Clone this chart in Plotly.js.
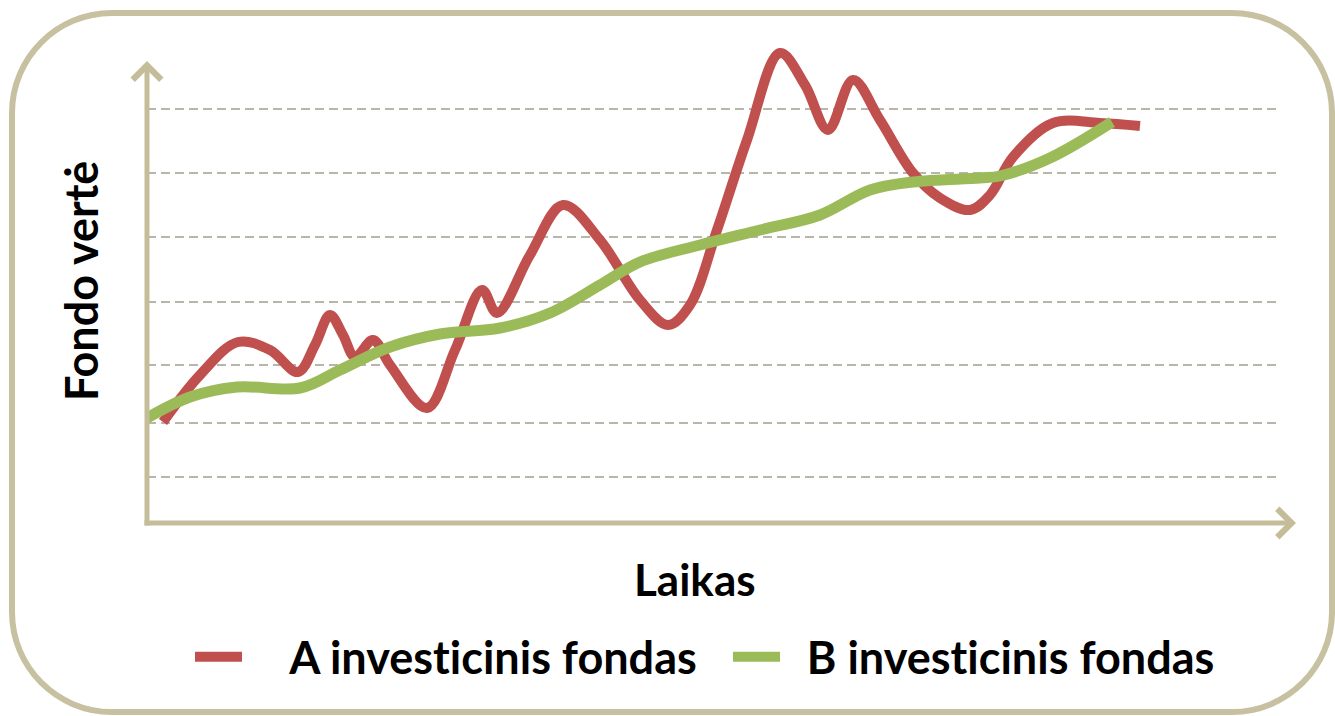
<!DOCTYPE html>
<html>
<head>
<meta charset="utf-8">
<script src="https://cdn.plot.ly/plotly-3.0.1.min.js"></script>
<style>
html,body{margin:0;padding:0;background:#ffffff;}
#chart{width:1335px;height:716px;}
text{font-variant-ligatures:none !important;font-feature-settings:"liga" 0,"clig" 0 !important;}
</style>
</head>
<body>
<div id="chart"></div>
<script>
// ---- data (time units, fund value units) ----
const timeA  = [16,53,91,123,151,168,183,196,208,226,243,280,308,335,350,383,416,453,493,521,543,570,600,633,658,681,706,733,766,793,823,843,866,906,953,993];
const valueA = [101,148,181,173,151,178,208,188,166,183,158,115,173,233,210,268,318,283,223,198,218,293,383,470,438,393,443,403,350,325,313,328,366,400,400,397];
const timeB  = [0,43,90,153,193,243,293,353,403,453,493,553,613,673,723,766,833,853,903,965];
const valueB = [105,126,136,135,153,176,189,195,210,238,261,278,293,308,333,341,345,347,365,401];
const gridLevels = [46,100,158,221,286,350,414];
const seriesNames = ['A investicinis fondas', 'B investicinis fondas'];
const xTitle = 'Laikas';
const yTitle = 'Fondo vertė';

// ---- styling ----
const W = 1335, H = 716;
const M = {l:147, r:55, t:40, b:193};
const PW = W - M.l - M.r, PH = H - M.t - M.b;
const fx = px => (px - M.l) / PW;          // pixel -> paper x
const fy = py => (H - M.b - py) / PH;      // pixel -> paper y
const FONT = 'Lato, "Open Sans", sans-serif';
const TAN = '#c5bd99';

// rounded frame path (paper coords)
function roundRect(L, T, R, B, r) {
  const k = 0.5523 * r;
  const P = (x, y) => fx(x).toFixed(5) + ',' + fy(y).toFixed(5);
  return 'M' + P(L + r, T) + ' L' + P(R - r, T) +
    ' C' + P(R - r + k, T) + ' ' + P(R, T + r - k) + ' ' + P(R, T + r) +
    ' L' + P(R, B - r) +
    ' C' + P(R, B - r + k) + ' ' + P(R - r + k, B) + ' ' + P(R - r, B) +
    ' L' + P(L + r, B) +
    ' C' + P(L + r - k, B) + ' ' + P(L, B - r + k) + ' ' + P(L, B - r) +
    ' L' + P(L, T + r) +
    ' C' + P(L, T + r - k) + ' ' + P(L + r - k, T) + ' ' + P(L + r, T) + ' Z';
}

const NB = '\u00a0';
const traces = [
  {x: timeA, y: valueA, name: NB.repeat(4) + seriesNames[0], type: 'scatter', mode: 'lines',
   line: {color: '#c0504d', width: 10, shape: 'spline', smoothing: 1.0}, cliponaxis: false},
  {x: timeB, y: valueB, name: NB.repeat(2) + seriesNames[1], type: 'scatter', mode: 'lines',
   line: {color: '#9bbb59', width: 11, shape: 'spline', smoothing: 1.0}, cliponaxis: false}
];

const layout = {
  width: W, height: H,
  margin: M,
  paper_bgcolor: '#ffffff', plot_bgcolor: '#ffffff',
  font: {family: FONT, color: '#000000'},
  showlegend: true,
  legend: {
    orientation: 'h', x: fx(190), xanchor: 'left', y: fy(657), yanchor: 'middle',
    font: {family: FONT, size: 45, weight: 'bold', color: '#000000'},
    itemwidth: 47, entrywidth: 476, bgcolor: 'rgba(0,0,0,0)', traceorder: 'normal'
  },
  xaxis: {range: [0, PW], showgrid: false, zeroline: false, showline: false,
          showticklabels: false, ticks: '', fixedrange: true},
  yaxis: {range: [0, PH], tickmode: 'array', tickvals: gridLevels, showgrid: true,
          gridcolor: '#b8b5aa', gridwidth: 1.5, griddash: '9px,5px',
          zeroline: false, showline: false, showticklabels: false, ticks: '', fixedrange: true},
  shapes: [
    {type: 'path', xref: 'paper', yref: 'paper', path: roundRect(12, 13, 1332, 712, 100),
     line: {color: '#c8c1a1', width: 6}, fillcolor: 'rgba(0,0,0,0)', layer: 'below'}
  ],
  annotations: [
    // y axis arrow
    {xref: 'paper', yref: 'paper', x: fx(147), y: fy(61), ax: 0, ay: 466, text: '',
     showarrow: true, arrowhead: 4, arrowsize: 1.1, arrowwidth: 5, arrowcolor: TAN, standoff: 0},
    // x axis arrow
    {xref: 'paper', yref: 'paper', x: fx(1296), y: fy(523), ax: -1153, ay: 0, text: '',
     showarrow: true, arrowhead: 4, arrowsize: 1.1, arrowwidth: 5, arrowcolor: TAN, standoff: 0},
    {xref: 'paper', yref: 'paper', x: fx(695), y: fy(579), text: xTitle, showarrow: false,
     xanchor: 'center', yanchor: 'middle', font: {family: FONT, size: 44, weight: 'bold', color: '#000'}},
    {xref: 'paper', yref: 'paper', x: fx(81), y: fy(281), text: yTitle, showarrow: false, textangle: -90,
     xanchor: 'center', yanchor: 'middle', font: {family: FONT, size: 45, weight: 'bold', color: '#000'}}
  ]
};

Plotly.newPlot('chart', traces, layout, {staticPlot: true, displayModeBar: false});
</script>
</body>
</html>
